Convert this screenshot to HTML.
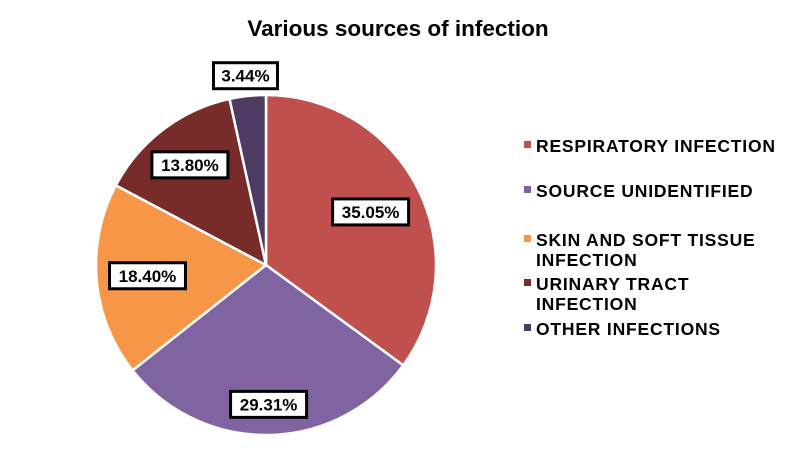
<!DOCTYPE html>
<html><head><meta charset="utf-8"><style>
body{margin:0;background:#fff;width:794px;height:463px;overflow:hidden;font-family:"Liberation Sans",Arial,sans-serif}
</style></head><body>
<svg id="chart" width="794" height="463">
<text x="398" y="36" text-anchor="middle" font-size="22.5" font-weight="bold" font-family="Liberation Sans, sans-serif">Various sources of infection</text>
<g id="slices"></g><g id="labels"></g><g id="legend"></g>
</svg>
<script>
const categories=["RESPIRATORY INFECTION","SOURCE UNIDENTIFIED","SKIN AND SOFT TISSUE INFECTION","URINARY TRACT INFECTION","OTHER INFECTIONS"];
const values=[35.05,29.31,18.40,13.80,3.44];
const valueLabels=["35.05%","29.31%","18.40%","13.80%","3.44%"];
const legendLines=[["RESPIRATORY INFECTION"],["SOURCE UNIDENTIFIED"],["SKIN AND SOFT TISSUE","INFECTION"],["URINARY TRACT","INFECTION"],["OTHER INFECTIONS"]];
const colors=["#C0504D","#8064A2","#F79646","#772C2A","#4D3B62"];
const labelK=[0.69,0.82,0.70,0.74,1.12];
const legendY=[146,191,240,284,329];
const NS="http://www.w3.org/2000/svg";
const cx=266,cy=265,r=170;
const total=values.reduce((a,b)=>a+b,0);
function pt(a,rr){return [cx+rr*Math.sin(a),cy-rr*Math.cos(a)];}
const sg=document.getElementById('slices'),lg=document.getElementById('labels'),gg=document.getElementById('legend');
let acc=0;
values.forEach((v,i)=>{
 const a0=acc/total*2*Math.PI; acc+=v; const a1=acc/total*2*Math.PI;
 const p0=pt(a0,r),p1=pt(a1,r);
 const p=document.createElementNS(NS,'path');
 p.setAttribute('d',`M${cx},${cy}L${p0[0]},${p0[1]}A${r},${r} 0 ${a1-a0>Math.PI?1:0} 1 ${p1[0]},${p1[1]}Z`);
 p.setAttribute('fill',colors[i]);p.setAttribute('stroke','#fff');p.setAttribute('stroke-width','2.5');
 
 
 sg.appendChild(p);
 const m=(a0+a1)/2,lp=pt(m,r*labelK[i]);
 const g=document.createElementNS(NS,'g');
 
 
 const rc=document.createElementNS(NS,'rect');
 const w=valueLabels[i].length>5?76:64;
 rc.setAttribute('x',lp[0]-w/2);rc.setAttribute('y',lp[1]-13);rc.setAttribute('width',w);rc.setAttribute('height',26);
 rc.setAttribute('fill','#fff');rc.setAttribute('stroke','#000');rc.setAttribute('stroke-width','3');
 g.appendChild(rc);
 const t=document.createElementNS(NS,'text');
 t.setAttribute('x',lp[0]);t.setAttribute('y',lp[1]+6);t.setAttribute('text-anchor','middle');
 t.setAttribute('font-size','17');t.setAttribute('font-weight','bold');t.textContent=valueLabels[i];
 g.appendChild(t);lg.appendChild(g);
 const e=document.createElementNS(NS,'g');
 
 
 const sq=document.createElementNS(NS,'rect');
 sq.setAttribute('x',524);sq.setAttribute('y',legendY[i]-5);sq.setAttribute('width',7);sq.setAttribute('height',7);sq.setAttribute('fill',colors[i]);
 e.appendChild(sq);
 legendLines[i].forEach((ln,j)=>{
  const tt=document.createElementNS(NS,'text');
  tt.setAttribute('x',536);tt.setAttribute('y',legendY[i]+6+j*20);tt.setAttribute('font-size','17.5');tt.setAttribute('font-weight','bold');
  tt.setAttribute('letter-spacing','0.8');
  tt.textContent=ln;e.appendChild(tt);
 });
 gg.appendChild(e);
});
</script>
</body></html>
